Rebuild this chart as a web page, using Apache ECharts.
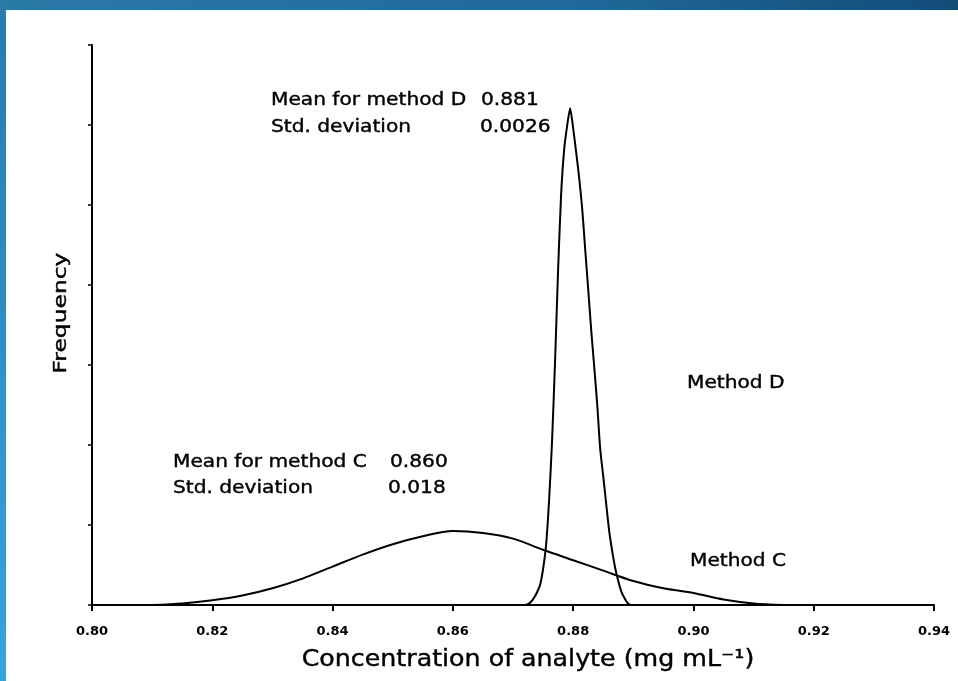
<!DOCTYPE html>
<html>
<head>
<meta charset="utf-8">
<script src="https://cdn.jsdelivr.net/npm/echarts@6/dist/echarts.min.js"></script>
<style>
  html, body { margin: 0; padding: 0; background: #fff; }
  #chart { width: 958px; height: 681px; }
</style>
</head>
<body>
<div id="chart"></div>
<script>
// x tick labels
const xTicks = ['0.80', '0.82', '0.84', '0.86', '0.88', '0.90', '0.92', '0.94'];

// method D, every 0.0005 from 0.8720
const dX = [0.8720, 0.8725, 0.8730, 0.8735, 0.8740, 0.8745, 0.8750, 0.8755, 0.8760, 0.8765,
            0.8770, 0.8775, 0.8780, 0.8785, 0.8790, 0.8795, 0.8800, 0.8805, 0.8810, 0.8815,
            0.8820, 0.8825, 0.8830, 0.8835, 0.8840, 0.8845, 0.8850, 0.8855, 0.8860, 0.8865,
            0.8870, 0.8875, 0.8880, 0.8885, 0.8890, 0.8895];
const dY = [0, 0.01, 0.04, 0.09, 0.16, 0.25, 0.45, 0.75, 1.31, 2.06,
            3.06, 4.19, 5.13, 5.69, 5.99, 6.21, 5.96, 5.66, 5.34, 4.96,
            4.45, 3.95, 3.44, 2.98, 2.51, 1.95, 1.61, 1.26, 0.92, 0.67,
            0.46, 0.30, 0.17, 0.09, 0.03, 0];

// method C, every 0.005 from 0.810
const cX = [0.810, 0.815, 0.820, 0.825, 0.830, 0.835, 0.840, 0.845, 0.850, 0.855, 0.860,
            0.865, 0.870, 0.875, 0.880, 0.885, 0.890, 0.895, 0.900, 0.905, 0.910, 0.915];
const cY = [0, 0.02, 0.06, 0.12, 0.21, 0.33, 0.48, 0.63, 0.76, 0.86, 0.925,
            0.90, 0.83, 0.69, 0.56, 0.43, 0.30, 0.21, 0.15, 0.07, 0.02, 0];

const zip = (xs, ys) => xs.map((x, i) => [x, ys[i]]);

const font = 'DejaVu Sans';
// scanned lettering is wide and heavy, so stretch and thicken a little
const txt = (text, x, y, size) => ({
  type: 'text', x: x, y: y, scaleX: 1.12, z: 50,
  style: { text: text, fill: '#000', stroke: '#000', lineWidth: 0.4,
           font: `${size}px "${font}"`, textAlign: 'left', textVerticalAlign: 'middle' }
});

const chart = echarts.init(document.getElementById('chart'));
chart.setOption({
  backgroundColor: '#fff',
  animation: false,
  grid: { left: 92, right: 24, top: 45, bottom: 76 },
  xAxis: {
    type: 'value', min: 0.80, max: 0.94, interval: 0.02,
    axisLine: { lineStyle: { color: '#000', width: 2 } },
    axisTick: { inside: false, length: 6, lineStyle: { color: '#000', width: 2 } },
    axisLabel: {
      color: '#000', fontFamily: font, fontSize: 13, fontWeight: 'bold', margin: 20,
      formatter: (v) => xTicks[Math.round((v - 0.80) / 0.02)]
    },
    splitLine: { show: false }
  },
  yAxis: {
    type: 'value', min: 0, max: 7, interval: 1,
    axisLine: { show: true, lineStyle: { color: '#000', width: 2 } },
    axisTick: { show: true, length: 4, lineStyle: { color: '#000', width: 1.5 } },
    axisLabel: { show: false },
    splitLine: { show: false }
  },
  series: [
    {
      name: 'Method C', type: 'line', data: zip(cX, cY),
      smooth: 0.3, showSymbol: false,
      lineStyle: { color: '#000', width: 2 }
    },
    {
      name: 'Method D', type: 'line', data: zip(dX, dY),
      smooth: 0.2, showSymbol: false,
      lineStyle: { color: '#000', width: 2 }
    }
  ],
  graphic: [
    {
      type: 'rect', left: 0, top: 0, z: 100,
      shape: { width: 958, height: 10 },
      style: { fill: new echarts.graphic.LinearGradient(0, 0, 1, 0, [
        { offset: 0, color: '#2a7aa8' }, { offset: 0.6, color: '#20699a' }, { offset: 1, color: '#124d77' }
      ]) }
    },
    {
      type: 'rect', left: 0, top: 0, z: 100,
      shape: { width: 6, height: 681 },
      style: { fill: new echarts.graphic.LinearGradient(0, 0, 0, 1, [
        { offset: 0, color: '#2a7aa8' }, { offset: 1, color: '#3aa2da' }
      ]) }
    },
    txt('Mean for method D', 271, 100, 18),
    txt('0.881', 481, 100, 18),
    txt('Std. deviation', 271, 127, 18),
    txt('0.0026', 480, 127, 18),
    txt('Mean for method C', 173, 462, 18),
    txt('0.860', 390, 462, 18),
    txt('Std. deviation', 173, 488, 18),
    txt('0.018', 388, 488, 18),
    txt('Method D', 687, 383, 18),
    txt('Method C', 690, 561, 18),
    // axis names
    {
      type: 'text', x: 528, y: 660, scaleX: 1.1,
      style: { text: 'Concentration of analyte (mg mL⁻¹)', fill: '#000', stroke: '#000', lineWidth: 0.4,
               font: `23px "${font}"`, textAlign: 'center', textVerticalAlign: 'middle' }
    },
    {
      type: 'text', x: 61, y: 313, rotation: Math.PI / 2, scaleX: 1.3,
      style: { text: 'Frequency', fill: '#000', stroke: '#000', lineWidth: 0.4,
               font: `18px "${font}"`, textAlign: 'center', textVerticalAlign: 'middle' }
    }
  ]
});
</script>
</body>
</html>
